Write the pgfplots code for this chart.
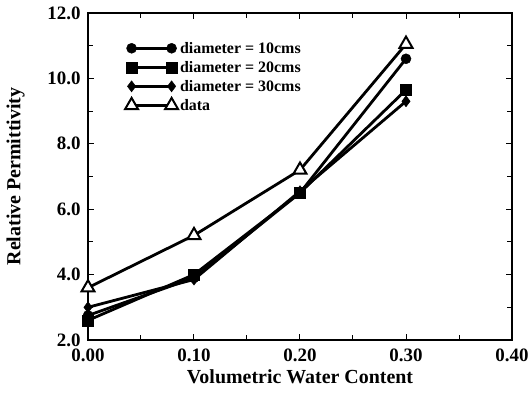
\documentclass[border=0pt]{standalone}
\usepackage{pgfplots}
\pgfplotsset{compat=1.18}
\usepackage{fontspec}
\setmainfont{Liberation Serif}
\begin{document}
\begin{tikzpicture}
\begin{axis}[
  scale only axis,
  width=424bp, height=327bp,
  xmin=0, xmax=0.4, ymin=2, ymax=12,
  xtick={0,0.1,0.2,0.3,0.4},
  ytick={2,4,6,8,10,12},
  minor xtick={0.05,0.15,0.25,0.35},
  minor ytick={3,5,7,9,11},
  tick align=inside,
  major tick length=6bp, minor tick length=5bp,
  every tick/.style={black, line width=1bp},
  axis line style={line width=2bp},
  xticklabels={0.00,0.10,0.20,0.30,0.40},
  yticklabels={2.0,4.0,6.0,8.0,10.0,12.0},
  ticklabel style={font=\fontsize{19}{21}\selectfont\bfseries},
  xticklabel style={yshift=-5bp},
  yticklabel style={xshift=-4bp},
  xlabel={Volumetric Water Content},
  ylabel={Relative Permittivity},
  every axis x label/.style={at={(axis description cs:0.5,-0.09)}, anchor=north, inner sep=0pt, font=\fontsize{20}{22}\selectfont\bfseries},
  every axis y label/.style={at={(axis description cs:-0.149,0.5)}, rotate=90, anchor=south, inner sep=0pt, font=\fontsize{20}{22}\selectfont\bfseries},
  legend style={at={(rel axis cs:0.087,0.918)}, anchor=north west, draw=none, fill=none,
    font=\fontsize{16}{17}\selectfont\bfseries, row sep=2.5bp, inner sep=0pt},
  legend cell align=left,
  legend image code/.code={\draw[mark repeat=1,#1] plot coordinates {(0bp,0bp) (40bp,0bp)};},
  every axis plot/.append style={line width=2.8bp, black},
]
\addplot[mark=*, mark size=5bp, mark options={solid, fill=black, line width=0.5bp}] coordinates {(0,2.75) (0.1,3.9) (0.2,6.5) (0.3,10.6)};
\addlegendentry{diameter = 10cms}
\addplot[mark=square*, mark size=5.5bp, mark options={solid, fill=black, line width=0.5bp}] coordinates {(0,2.6) (0.1,4.0) (0.2,6.5) (0.3,9.65)};
\addlegendentry{diameter = 20cms}
\addplot[mark=diamond*, mark size=5.5bp, mark options={solid, fill=black, line width=0.5bp}] coordinates {(0,3.0) (0.1,3.85) (0.2,6.55) (0.3,9.3)};
\addlegendentry{diameter = 30cms}
\addplot[mark=triangle*, mark size=7.5bp, mark options={solid, fill=white, line width=2bp}] coordinates {(0,3.6) (0.1,5.2) (0.2,7.2) (0.3,11.05)};
\addlegendentry{data}
\end{axis}
\pgfresetboundingbox
\path (-88bp,-58bp) rectangle (444bp,340bp);
\end{tikzpicture}
\end{document}
